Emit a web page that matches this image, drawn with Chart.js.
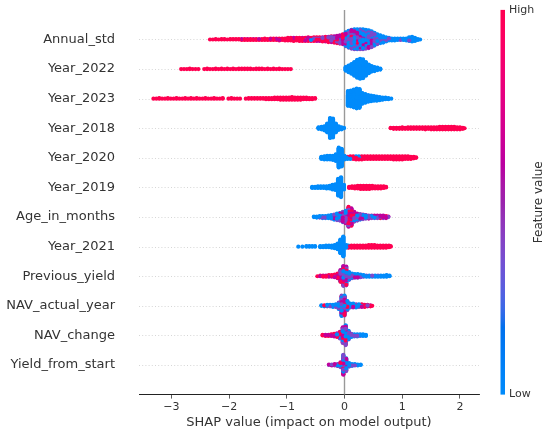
<!DOCTYPE html>
<html>
<head>
<meta charset="utf-8">
<script src="https://cdn.jsdelivr.net/npm/chart.js@4.4.1/dist/chart.umd.min.js"></script>
<style>
html,body{margin:0;padding:0;background:#ffffff;}
#wrap{width:550px;height:437px;}
</style>
</head>
<body>
<div id="wrap"><canvas id="c" width="550" height="437"></canvas></div>
<script>
// ---------------- DATA ----------------
// features listed top to bottom
const features = ["Annual_std","Year_2022","Year_2023","Year_2018","Year_2020","Year_2019",
  "Age_in_months","Year_2021","Previous_yield","NAV_actual_year","NAV_change","Yield_from_start"];
const xTicks = [-3,-2,-1,0,1,2];
// feature-value level of each colour class: low (blue), mid-low, mid-high, high (red)
const colorLevels = [0.0, 0.38, 0.62, 1.0];
// each entry: [SHAP value, count low, count mid-low, count mid-high, count high]
const annualStd = [
[-2.33,0,0,0,1],[-2.28,0,0,0,1],[-2.23,0,0,0,2],[-2.18,0,0,0,1],[-2.13,0,0,0,2],[-2.08,0,0,0,2],
[-2.03,0,0,0,1],[-1.98,0,0,0,2],[-1.93,0,0,0,2],[-1.88,0,0,0,2],[-1.83,0,0,0,2],[-1.78,0,0,1,2],
[-1.73,0,0,0,3],[-1.68,0,0,1,2],[-1.63,0,0,0,3],[-1.58,0,0,1,2],[-1.53,0,0,0,3],[-1.48,0,0,1,2],
[-1.43,0,0,0,3],[-1.38,0,0,1,3],[-1.33,0,0,0,3],[-1.28,0,0,1,3],[-1.23,0,0,0,4],[-1.18,0,0,1,3],
[-1.13,0,0,1,4],[-1.08,0,0,0,4],[-1.03,0,0,1,4],[-0.98,0,0,1,5],[-0.93,0,0,1,5],[-0.88,0,0,2,5],
[-0.83,0,0,1,5],[-0.78,0,1,1,5],[-0.73,0,0,2,5],[-0.68,0,1,1,5],[-0.63,0,0,2,6],[-0.58,1,0,1,5],
[-0.53,1,1,1,5],[-0.48,0,1,2,5],[-0.43,0,1,2,5],[-0.38,1,1,2,5],[-0.33,1,1,2,6],[-0.28,1,2,2,6],
[-0.23,2,2,3,5],[-0.18,2,3,3,5],[-0.13,3,3,4,5],[-0.08,4,4,4,5],[-0.03,5,5,5,5],
[0.02,10,9,6,3],[0.07,13,11,7,3],[0.12,16,12,8,2],[0.17,18,13,7,2],[0.22,19,13,7,1],[0.27,20,13,6,1],
[0.32,20,13,6,1],[0.37,21,11,5,1],[0.42,21,10,4,1],[0.47,20,8,4,0],[0.52,17,6,3,0],[0.57,14,5,1,0],
[0.62,12,3,1,0],[0.67,10,2,1,0],[0.72,7,2,0,0],[0.77,5,1,0,0],[0.82,4,1,0,0],[0.87,4,1,0,0],
[0.92,4,0,0,0],[0.97,3,1,0,0],[1.02,4,0,0,0],[1.07,5,0,0,0],[1.12,7,1,0,0],[1.17,9,1,0,0],
[1.22,7,0,0,0],[1.27,3,0,0,0],[1.31,1,0,0,0]
];
const year2022 = [
[-2.83,0,0,0,1],[-2.78,0,0,0,1],[-2.73,0,0,0,1],[-2.68,0,0,0,2],[-2.63,0,0,0,1],[-2.58,0,0,0,1],
[-2.53,0,0,0,1],[-2.43,0,0,0,1],[-2.38,0,0,0,2],[-2.33,0,0,0,1],[-2.28,0,0,0,1],[-2.23,0,0,0,2],
[-2.18,0,0,0,1],[-2.13,0,0,0,2],[-2.08,0,0,0,1],[-2.03,0,0,0,2],[-1.98,0,0,0,1],[-1.93,0,0,0,2],
[-1.88,0,0,0,1],[-1.83,0,0,0,2],[-1.78,0,0,0,2],[-1.73,0,0,0,2],[-1.68,0,0,0,2],[-1.63,0,0,0,2],
[-1.58,0,0,0,1],[-1.53,0,0,0,2],[-1.48,0,0,0,2],[-1.43,0,0,0,2],[-1.38,0,0,0,1],[-1.33,0,0,0,2],
[-1.28,0,0,0,1],[-1.23,0,0,0,2],[-1.18,0,0,0,1],[-1.13,0,0,0,2],[-1.08,0,0,0,1],[-1.03,0,0,0,1],
[-0.98,0,0,0,1],[-0.93,0,0,0,1],
[0.02,8,0,0,0],[0.07,14,0,0,0],[0.12,20,0,0,0],[0.17,28,0,0,0],[0.22,36,0,0,0],[0.27,40,0,0,0],
[0.32,38,0,0,0],[0.37,28,0,0,0],[0.42,18,0,0,0],[0.47,12,0,0,0],[0.52,9,0,0,0],[0.57,6,0,0,0],
[0.62,3,0,0,0]
];
const year2023 = [
[-3.31,0,0,0,1],[-3.26,0,0,0,1],[-3.21,0,0,0,2],[-3.16,0,0,0,1],[-3.11,0,0,0,1],[-3.06,0,0,0,2],
[-3.01,0,0,0,1],[-2.96,0,0,0,1],[-2.91,0,0,0,2],[-2.86,0,0,0,1],[-2.81,0,0,0,1],[-2.76,0,0,0,2],
[-2.71,0,0,0,1],[-2.66,0,0,0,2],[-2.61,0,0,0,1],[-2.56,0,0,0,2],[-2.51,0,0,0,1],[-2.46,0,0,0,1],
[-2.41,0,0,0,2],[-2.36,0,0,0,1],[-2.31,0,0,0,1],[-2.26,0,0,0,2],[-2.21,0,0,0,1],[-2.16,0,0,0,1],
[-2.11,0,0,0,2],[-2.01,0,0,0,1],[-1.96,0,0,0,2],[-1.91,0,0,0,1],[-1.86,0,0,0,1],[-1.81,0,0,0,1],
[-1.71,0,0,0,1],[-1.66,0,0,0,2],[-1.61,0,0,0,2],[-1.56,0,0,0,2],[-1.51,0,0,0,2],[-1.46,0,0,0,2],
[-1.41,0,0,0,2],[-1.36,0,0,0,3],[-1.31,0,0,0,3],[-1.26,0,0,0,3],[-1.21,0,0,0,4],[-1.16,0,0,0,4],
[-1.11,0,0,0,5],[-1.06,0,0,0,5],[-1.01,0,0,0,5],[-0.96,0,0,0,5],[-0.91,0,0,0,6],[-0.86,0,0,0,5],
[-0.81,0,0,0,5],[-0.76,0,0,0,5],[-0.71,0,0,0,4],[-0.66,0,0,0,4],[-0.61,0,0,0,3],[-0.56,0,0,0,3],
[-0.51,0,0,0,2],
[0.06,30,0,0,0],[0.11,32,0,0,0],[0.16,36,0,0,0],[0.21,40,0,0,0],[0.26,38,0,0,0],[0.31,22,0,0,0],
[0.36,18,0,0,0],[0.41,14,0,0,0],[0.46,12,0,0,0],[0.51,10,0,0,0],[0.56,9,0,0,0],[0.61,7,0,0,0],
[0.66,5,0,0,0],[0.71,4,0,0,0],[0.76,3,0,0,0],[0.81,1,0,0,0]
];
const year2018 = [
[-0.45,4,0,0,0],[-0.40,6,0,0,0],[-0.35,9,0,0,0],[-0.30,18,0,0,0],[-0.25,40,0,0,0],[-0.20,38,0,0,0],
[-0.15,18,0,0,0],[-0.10,8,0,0,0],[-0.05,5,0,0,0],[-0.01,2,0,0,0],
[0.80,0,0,0,2],[0.85,0,0,0,3],[0.90,0,0,0,3],[0.95,0,0,0,3],[1.00,0,0,0,4],[1.05,0,0,0,3],
[1.10,0,0,0,4],[1.15,0,0,0,4],[1.20,0,0,0,4],[1.25,0,0,0,4],[1.30,0,0,0,4],[1.35,0,0,0,4],
[1.40,0,0,0,5],[1.45,0,0,0,4],[1.50,0,0,0,5],[1.55,0,0,0,5],[1.60,0,0,0,5],[1.65,0,0,0,6],
[1.70,0,0,0,6],[1.75,0,0,0,6],[1.80,0,0,0,6],[1.85,0,0,0,6],[1.90,0,0,0,6],[1.95,0,0,0,5],
[2.00,0,0,0,5],[2.05,0,0,0,3],[2.08,0,0,0,1]
];
const year2020 = [
[-0.40,5,0,0,0],[-0.35,7,0,0,0],[-0.30,8,0,0,0],[-0.25,8,0,0,0],[-0.20,9,0,0,0],[-0.15,14,0,0,0],
[-0.10,40,0,0,0],[-0.05,36,0,0,0],[0.00,8,0,0,0],
[0.05,3,0,0,2],[0.10,2,0,0,4],[0.15,1,0,0,5],[0.20,3,0,0,4],[0.25,3,0,0,4],[0.30,1,0,0,6],
[0.35,0,0,0,6],[0.40,0,0,0,6],[0.45,0,0,0,6],[0.50,0,0,0,6],[0.55,0,0,0,6],[0.60,0,0,0,6],
[0.65,0,0,0,6],[0.70,0,0,0,6],[0.75,0,0,0,6],[0.80,0,0,0,6],[0.85,0,0,0,7],[0.90,0,0,0,7],
[0.95,0,0,0,7],[1.00,0,0,0,7],[1.05,0,0,0,6],[1.10,0,0,0,6],[1.15,0,0,0,5],[1.20,0,0,0,4],
[1.24,0,0,0,2]
];
const year2019 = [
[-0.56,3,0,0,0],[-0.51,3,0,0,0],[-0.46,4,0,0,0],[-0.41,4,0,0,0],[-0.36,4,0,0,0],[-0.31,5,0,0,0],
[-0.26,6,0,0,0],[-0.21,10,0,0,0],[-0.16,12,0,0,0],[-0.11,34,0,0,0],[-0.06,40,0,0,0],[-0.01,10,0,0,0],
[0.08,0,0,0,3],[0.13,0,0,0,4],[0.18,0,0,0,5],[0.23,0,0,0,6],[0.28,0,0,0,7],[0.33,0,0,0,7],
[0.38,0,0,0,7],[0.43,0,0,0,7],[0.48,0,0,0,6],[0.53,0,0,0,5],[0.58,0,0,0,5],[0.63,0,0,0,5],
[0.68,0,0,0,4],[0.72,0,0,0,2]
];
const ageInMonths = [
[-0.53,2,0,0,0],[-0.48,3,0,0,0],[-0.43,3,1,0,0],[-0.38,4,1,0,0],[-0.33,4,1,0,0],[-0.28,5,1,0,0],
[-0.23,6,2,0,0],[-0.18,7,3,1,0],[-0.13,7,4,2,1],[-0.08,7,5,3,1],[-0.03,8,6,5,2],[0.02,7,6,7,5],
[0.07,6,8,12,14],[0.12,5,8,11,11],[0.17,4,6,6,4],[0.22,4,5,4,2],[0.27,4,4,3,1],[0.32,3,3,3,1],
[0.37,2,3,3,0],[0.42,2,2,3,0],[0.47,2,2,2,0],[0.52,1,2,3,0],[0.57,1,2,3,0],[0.62,1,1,3,1],
[0.67,0,2,4,0],[0.72,0,1,3,1],[0.76,0,1,1,0]
];
const year2021 = [
[-0.80,1,0,0,0],[-0.73,1,0,0,0],[-0.66,2,0,0,0],[-0.61,2,0,0,0],[-0.56,2,0,0,0],[-0.51,2,0,0,0],
[-0.42,3,0,0,0],[-0.37,3,0,0,0],[-0.32,4,0,0,0],[-0.27,4,0,0,0],[-0.22,5,0,0,0],[-0.17,7,0,0,0],
[-0.12,12,0,0,0],[-0.07,28,0,0,0],[-0.02,40,0,0,0],[0.03,6,0,0,0],
[0.07,2,0,0,3],[0.12,0,0,0,5],[0.17,0,0,0,5],[0.22,0,0,0,5],[0.27,0,0,0,5],[0.32,0,0,0,5],
[0.37,0,0,0,5],[0.42,0,0,0,6],[0.47,0,0,0,6],[0.52,0,0,0,6],[0.57,0,0,0,5],[0.62,0,0,0,5],
[0.67,0,0,0,5],[0.72,0,0,0,5],[0.77,0,0,0,4],[0.80,0,0,0,2]
];
const previousYield = [
[-0.47,0,0,0,1],[-0.42,0,0,1,1],[-0.37,0,0,1,2],[-0.32,0,0,1,2],[-0.27,0,1,1,2],[-0.22,0,0,2,2],
[-0.17,0,1,2,3],[-0.12,1,2,3,4],[-0.07,4,6,8,6],[-0.02,9,11,12,8],[0.03,10,11,11,6],[0.08,6,5,4,1],
[0.13,5,3,2,0],[0.18,5,2,1,0],[0.23,5,2,1,0],[0.28,4,2,0,0],[0.33,3,1,0,0],[0.38,2,1,0,0],
[0.43,3,0,0,0],[0.48,2,1,0,0],[0.53,3,0,0,0],[0.58,2,1,0,0],[0.63,3,0,0,0],[0.68,3,0,0,0],
[0.73,4,0,0,0],[0.78,2,0,0,0]
];
const navActualYear = [
[-0.40,2,0,0,0],[-0.35,2,0,0,1],[-0.30,3,1,0,0],[-0.25,3,1,0,0],[-0.20,4,1,0,0],[-0.15,4,2,0,0],
[-0.10,6,4,2,1],[-0.05,14,12,8,5],[0.00,14,11,8,5],[0.05,8,5,3,2],[0.10,5,2,1,0],[0.15,5,2,1,0],
[0.20,4,2,1,0],[0.25,3,2,1,0],[0.30,1,1,2,2],[0.35,0,1,2,2],[0.40,0,1,1,2],[0.45,0,0,1,2],
[0.48,0,0,0,1]
];
const navChange = [
[-0.38,0,0,0,2],[-0.33,0,0,1,2],[-0.28,0,0,1,2],[-0.23,0,0,2,2],[-0.18,0,1,2,3],[-0.13,1,2,3,2],
[-0.08,3,4,4,3],[-0.03,9,9,9,5],[0.02,14,12,9,5],[0.07,9,5,3,1],[0.12,5,2,0,0],[0.17,4,1,0,0],
[0.22,4,1,0,0],[0.27,3,1,0,0],[0.32,4,0,0,0],[0.37,3,0,0,0]
];
const yieldFromStart = [
[-0.27,0,1,1,0],[-0.22,0,1,2,0],[-0.17,0,2,2,0],[-0.12,1,2,2,0],[-0.07,2,3,3,2],[-0.02,10,12,11,7],
[0.03,9,8,6,3],[0.08,4,2,1,1],[0.13,4,1,0,0],[0.18,3,1,0,0],[0.23,3,0,0,0],[0.28,2,0,0,0]
];
const featureData = [annualStd, year2022, year2023, year2018, year2020, year2019,
  ageInMonths, year2021, previousYield, navActualYear, navChange, yieldFromStart];

// ---------------- colour map (SHAP red_blue, LCH interpolation) ----------------
function lch2rgb(L, C, H) {
  const a = C * Math.cos(H), b = C * Math.sin(H);
  const fy = (L + 16) / 116, fx = a / 500 + fy, fz = fy - b / 200;
  const f = t => t > 0.2068966 ? t * t * t : (t - 16 / 116) / 7.787;
  const X = f(fx) * 0.95047, Y = f(fy), Z = f(fz) * 1.08883;
  const r = 3.24048134 * X - 1.53715152 * Y - 0.49853633 * Z;
  const g = -0.96925495 * X + 1.87599 * Y + 0.04155593 * Z;
  const bl = 0.05564664 * X - 0.20404134 * Y + 1.05731107 * Z;
  const gam = c => { c = c > 0.0031308 ? 1.055 * Math.pow(c, 1 / 2.4) - 0.055 : 12.92 * c;
    return Math.round(Math.min(1, Math.max(0, c)) * 255); };
  return 'rgb(' + gam(r) + ',' + gam(g) + ',' + gam(bl) + ')';
}
function cmap(p) {
  const i = p * 99;
  const L = i < 50 ? 54 - 14 * i / 49 : 40 + 14 * (i - 50) / 49;
  const C = 70 + 20 * i / 99;
  const H = 4.6588 + (0.35470565 + 2 * Math.PI - 4.6588) * i / 99;
  return lch2rgb(L, C, H);
}

// ---------------- beeswarm layout (SHAP style stacking) ----------------
const ROW_H = 0.36;
const points = [], colors = [];
const nF = features.length;
featureData.forEach((entries, fi) => {
  const row = nF - 1 - fi;
  let maxYs = 0;
  const cols = entries.map(e => {
    const counts = e.slice(1);
    const n = counts.reduce((s, v) => s + v, 0);
    maxYs = Math.max(maxYs, Math.ceil((n - 1) / 2));
    const seq = [], given = [0, 0, 0, 0];
    for (let k = 0; k < n; k++) {
      let best = -1, bestD = -Infinity;
      for (let c = 0; c < 4; c++) {
        if (given[c] >= counts[c]) continue;
        const d = counts[c] * (k + 1) / n - given[c];
        if (d > bestD) { bestD = d; best = c; }
      }
      given[best]++; seq.push(best);
    }
    return { x: e[0], seq };
  });
  const unit = ROW_H / (maxYs + 1);
  const feat = [];
  cols.forEach(col => col.seq.forEach((c, k) => {
    const ys = Math.ceil(k / 2) * ((k % 2) * 2 - 1);
    feat.push({ p: { x: col.x, y: row + ys * unit }, c: cmap(colorLevels[c]) });
  }));
  // drawing order: evenly spread (golden-ratio sequence) so colours intermix as in sample order
  feat.forEach((o, idx) => { o.key = (idx * 0.6180339887) % 1; });
  feat.sort((a, b) => a.key - b.key);
  feat.forEach(o => { points.push(o.p); colors.push(o.c); });
});

const FONT = "'DejaVu Sans', 'Liberation Sans', sans-serif";
const TXT = '#333333';

const decor = {
  id: 'decor',
  beforeDatasetsDraw(chart) {
    const { ctx, chartArea: a, scales: { x, y } } = chart;
    ctx.save();
    ctx.strokeStyle = '#cccccc'; ctx.lineWidth = 0.8; ctx.setLineDash([1, 2.2]);
    for (let r = 0; r < nF; r++) {
      const py = Math.round(y.getPixelForValue(r)) + 0.5;
      ctx.beginPath(); ctx.moveTo(a.left, py); ctx.lineTo(a.right, py); ctx.stroke();
    }
    ctx.setLineDash([]);
    ctx.strokeStyle = '#999999'; ctx.lineWidth = 1.4;
    const px = x.getPixelForValue(0);
    ctx.beginPath(); ctx.moveTo(px, a.top); ctx.lineTo(px, a.bottom); ctx.stroke();
    ctx.restore();
  },
  afterDraw(chart) {
    const { ctx, chartArea: a } = chart;
    ctx.save();
    const x0 = a.right + 21.5, w = 4.5;
    const grad = ctx.createLinearGradient(0, a.bottom, 0, a.top);
    for (let s = 0; s <= 40; s++) grad.addColorStop(s / 40, cmap(s / 40));
    ctx.fillStyle = grad;
    ctx.fillRect(x0, a.top, w, a.bottom - a.top);
    ctx.fillStyle = TXT;
    ctx.font = '11px ' + FONT;
    ctx.textAlign = 'left'; ctx.textBaseline = 'middle';
    ctx.fillText('High', x0 + w + 4, a.top);
    ctx.fillText('Low', x0 + w + 4, a.bottom);
    ctx.font = '12px ' + FONT;
    ctx.translate(538.5, (a.top + a.bottom) / 2);
    ctx.rotate(-Math.PI / 2);
    ctx.textAlign = 'center';
    ctx.fillText('Feature value', 0, 0);
    ctx.restore();
  }
};

new Chart(document.getElementById('c'), {
  type: 'scatter',
  data: { datasets: [{
    data: points,
    backgroundColor: colors,
    borderWidth: 0,
    pointRadius: 2.1,
    pointHoverRadius: 2.1
  }] },
  options: {
    responsive: false,
    animation: false,
    events: [],
    layout: { padding: { left: 0, right: 71, top: 9.9, bottom: 0 } },
    plugins: { legend: { display: false }, tooltip: { enabled: false } },
    scales: {
      x: {
        type: 'linear', min: -3.56, max: 2.33,
        afterBuildTicks: s => { s.ticks = xTicks.map(v => ({ value: v })); },
        ticks: { callback: v => (v < 0 ? '\u2212' : '') + Math.abs(v),
          font: { family: FONT, size: 11 }, color: TXT, padding: 2, maxRotation: 0, autoSkip: false },
        grid: { display: true, drawOnChartArea: false, drawTicks: true, tickLength: 4, color: '#333333', lineWidth: 0.8 },
        border: { display: true, color: '#222222', width: 1 },
        title: { display: true, text: 'SHAP value (impact on model output)',
          font: { family: FONT, size: 13 }, color: TXT, padding: { top: 0, bottom: 7 } },
        afterFit: s => { s.height = 42.4; s.paddingLeft = 0; s.paddingRight = 0; }
      },
      y: {
        type: 'linear', min: -1, max: 12,
        afterBuildTicks: s => { s.ticks = features.map((f, i) => ({ value: i })); },
        ticks: { callback: v => features[nF - 1 - v], font: { family: FONT, size: 13 },
          color: TXT, padding: 24, autoSkip: false },
        grid: { display: false, drawTicks: false },
        border: { display: false },
        afterFit: s => { s.width = 139; s.paddingTop = 0; s.paddingBottom = 0; }
      }
    }
  },
  plugins: [decor]
});
</script>
</body>
</html>
